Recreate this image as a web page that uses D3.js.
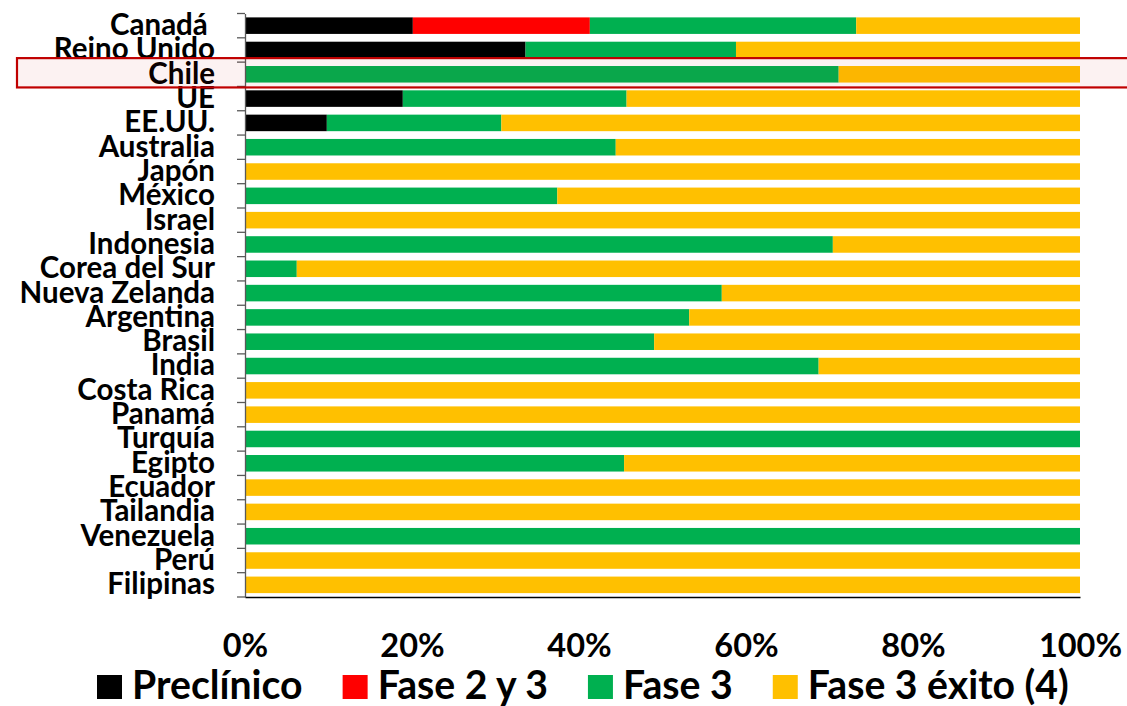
<!DOCTYPE html>
<html>
<head>
<meta charset="utf-8">
<script src="https://cdn.jsdelivr.net/npm/d3@7"></script>
<style>
  html, body { margin: 0; padding: 0; background: #fff; }
  svg { display: block; font-family: Lato, "Open Sans", sans-serif; font-weight: 700; }
</style>
</head>
<body>
<svg id="chart" width="1127" height="706"></svg>
<script>
// Vaccine candidates by development stage, share per country (%)
const categories = ["Canadá ", "Reino Unido", "Chile", "UE", "EE.UU.", "Australia", "Japón", "México",
  "Israel", "Indonesia", "Corea del Sur", "Nueva Zelanda", "Argentina", "Brasil", "India",
  "Costa Rica", "Panamá", "Turquía", "Egipto", "Ecuador", "Tailandia", "Venezuela", "Perú", "Filipinas"];

const preclinico = [20.1, 33.6, 0, 18.9, 9.8, 0, 0, 0, 0, 0, 0, 0, 0, 0, 0, 0, 0, 0, 0, 0, 0, 0, 0, 0];
const fase2y3    = [21.2, 0, 0, 0, 0, 0, 0, 0, 0, 0, 0, 0, 0, 0, 0, 0, 0, 0, 0, 0, 0, 0, 0, 0];
const fase3      = [31.9, 25.2, 71.1, 26.8, 20.9, 44.4, 0, 37.4, 0, 70.4, 6.2, 57.1, 53.2, 49.0, 68.7, 0, 0, 100, 45.4, 0, 0, 100, 0, 0];
const fase3Exito = [26.8, 41.2, 28.9, 54.3, 69.3, 55.6, 100, 62.6, 100, 29.6, 93.8, 42.9, 46.8, 51.0, 31.3, 100, 100, 0, 54.6, 100, 100, 0, 100, 100];

const seriesNames = ["Preclínico", "Fase 2 y 3", "Fase 3", "Fase 3 éxito (4)"];
const xTicks = [0, 20, 40, 60, 80, 100];
const highlighted = "Chile";

const colors = ["#000000", "#ff0000", "#00b050", "#ffc000"];
const keys = ["pre", "f23", "f3", "ok"];

const rows = categories.map((c, i) => ({
  cat: c, pre: preclinico[i], f23: fase2y3[i], f3: fase3[i], ok: fase3Exito[i]
}));

const svg = d3.select("#chart");
const plotLeft = 245, plotRight = 1080, plotTop = 13.5, plotBottom = 597;

const x = d3.scaleLinear().domain([0, 100]).range([plotLeft, plotRight]);
const y = d3.scaleBand().domain(categories).range([plotTop, plotBottom])
  .paddingInner(0.32).paddingOuter(0.16);
const color = d3.scaleOrdinal().domain(keys).range(colors);

const stacked = d3.stack().keys(keys)(rows);

// stacked bars
svg.append("g").selectAll("g").data(stacked).join("g")
  .attr("fill", d => color(d.key))
  .selectAll("rect").data(d => d).join("rect")
  .attr("x", d => x(d[0]))
  .attr("y", d => y(d.data.cat))
  .attr("width", d => Math.max(0, x(d[1]) - x(d[0])))
  .attr("height", y.bandwidth());

// category axis
const step = y.step();
const bandStart = cat => y(cat) - step * y.paddingOuter();
const yAxis = svg.append("g")
  .attr("transform", `translate(${plotLeft},0)`)
  .call(d3.axisLeft(y).tickSize(0).tickSizeOuter(0).tickPadding(30));
yAxis.select(".domain").attr("stroke", "#595959").attr("stroke-width", 1.3);
yAxis.selectAll("text")
  .attr("font-size", 29.5).attr("fill", "#000")
  .attr("font-family", "Lato, sans-serif").attr("font-weight", 700)
  .style("white-space", "pre");

// boundary ticks between categories
const bounds = d3.range(categories.length + 1).map(i => plotTop + i * step);
svg.append("g").selectAll("line").data(bounds).join("line")
  .attr("x1", plotLeft - 8).attr("x2", plotLeft)
  .attr("y1", d => d).attr("y2", d => d)
  .attr("stroke", "#595959").attr("stroke-width", 1.3);

// value axis
const xAxis = svg.append("g")
  .attr("transform", `translate(0,${plotBottom})`)
  .call(d3.axisBottom(x).tickValues(xTicks).tickFormat(d => d + "%").tickSize(0).tickSizeOuter(0));
xAxis.select(".domain").attr("stroke", "#000").attr("stroke-width", 1.5);
xAxis.selectAll("text")
  .attr("y", 60).attr("dy", 0)
  .attr("font-size", 32.5).attr("fill", "#000")
  .attr("font-family", "Lato, sans-serif").attr("font-weight", 700);

// highlight box around one country
const hb = bandStart(highlighted);
svg.append("rect")
  .attr("x", 17).attr("y", hb - 4)
  .attr("width", 1127).attr("height", step + 5)
  .attr("fill", "#c00000").attr("fill-opacity", 0.05)
  .attr("stroke", "#c00000").attr("stroke-width", 2.2);

// legend
const legend = svg.append("g").attr("font-size", 39.2);
let lx = 97;
seriesNames.forEach((name, i) => {
  legend.append("rect")
    .attr("x", lx).attr("y", 675).attr("width", 25).attr("height", 24)
    .attr("fill", colors[i]);
  const t = legend.append("text")
    .attr("x", lx + 35).attr("y", 699)
    .attr("fill", "#000").text(name);
  lx += 35 + t.node().getComputedTextLength() + 40;
});
</script>
</body>
</html>
